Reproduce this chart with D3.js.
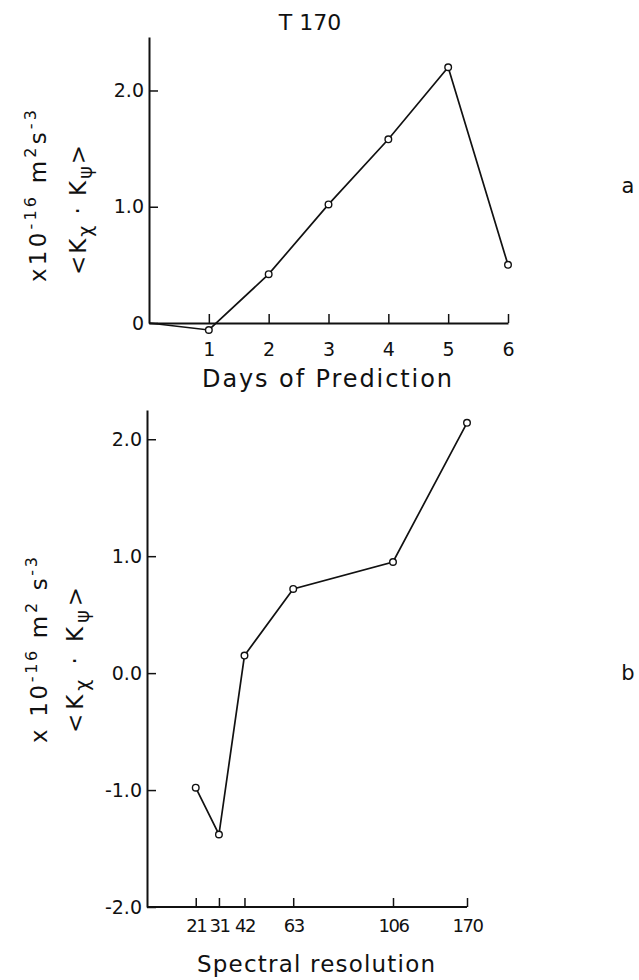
<html>
    <head>
        <script src="https://cdn.jsdelivr.net/npm/d3@7/dist/d3.min.js" charset="utf-8"></script>
        <style>
            body { margin: 0; background: #fff; }
            text { font-family: "DejaVu Sans", sans-serif; fill: #111; }
        </style>
    </head>

    <body>
    </body>

    <script>
        // Panel a: flux against days of prediction (T170 run)
        var days = [0, 1, 2, 3, 4, 5, 6];
        var fluxByDay = [0.0, -0.06, 0.42, 1.02, 1.58, 2.20, 0.50];
        var dayTicks = [1, 2, 3, 4, 5, 6];
        var topYTicks = [0, 1, 2];
        var topYLabels = ["0", "1.0", "2.0"];

        // Panel b: flux against spectral resolution
        var resolutions = [21, 31, 42, 63, 106, 170];
        var fluxByRes = [-0.98, -1.38, 0.15, 0.72, 0.95, 2.14];
        var botYTicks = [-2, -1, 0, 1, 2];
        var botYLabels = ["-2.0", "-1.0", "0.0", "1.0", "2.0"];

        var width = 639;
        var height = 980;
        var fontName = "'DejaVu Sans', sans-serif";

        var svg = d3.select("body").append("svg")
            .attr("width", width)
            .attr("height", height);

        svg.append("rect")
            .attr("width", width)
            .attr("height", height)
            .attr("fill", "#fff");

        // scales
        var xTop = d3.scaleLinear().domain([0, 6]).range([149, 508]);
        var yTop = d3.scaleLinear().domain([0, 2.46]).range([323, 37]);

        // the resolution axis is linear up to 106, then squeezed for 170
        var xBot = d3.scaleLinear().domain([0, 106, 170]).range([147, 393, 467]);
        var yBot = d3.scaleLinear().domain([-2, 2.25]).range([907, 410]);

        function styleAxis(g, fontSize) {
            g.select(".domain").attr("stroke", "#111").attr("stroke-width", 2);
            g.selectAll(".tick line").attr("stroke", "#111").attr("stroke-width", 1.5);
            g.selectAll(".tick text")
                .attr("fill", "#111")
                .style("font-family", fontName)
                .style("font-size", fontSize + "px");
        }

        // ---- panel a ----
        var gxTop = svg.append("g")
            .attr("transform", "translate(0," + yTop(0) + ")")
            .call(d3.axisBottom(xTop)
                .tickValues(dayTicks)
                .tickSizeInner(-9)
                .tickSizeOuter(0)
                .tickPadding(20)
                .tickFormat(d3.format("d")));
        styleAxis(gxTop, 19);

        var gyTop = svg.append("g")
            .attr("transform", "translate(" + xTop(0) + ",0)")
            .call(d3.axisLeft(yTop)
                .tickValues(topYTicks)
                .tickSizeInner(-9)
                .tickSizeOuter(0)
                .tickPadding(5)
                .tickFormat(function (d, i) { return topYLabels[i]; }));
        styleAxis(gyTop, 19);

        var lineTop = d3.line()
            .x(function (d, i) { return xTop(days[i]); })
            .y(function (d) { return yTop(d); });

        svg.append("path")
            .datum(fluxByDay)
            .attr("d", lineTop)
            .attr("fill", "none")
            .attr("stroke", "#111")
            .attr("stroke-width", 1.7);

        // no marker on the starting point at day 0
        svg.selectAll(".dotTop")
            .data(fluxByDay.slice(1))
            .enter().append("circle")
            .attr("class", "dotTop")
            .attr("cx", function (d, i) { return xTop(days[i + 1]); })
            .attr("cy", function (d) { return yTop(d); })
            .attr("r", 3.3)
            .attr("fill", "#fff")
            .attr("stroke", "#111")
            .attr("stroke-width", 1.4);

        svg.append("text")
            .attr("x", 310)
            .attr("y", 30)
            .attr("text-anchor", "middle")
            .style("font-size", "22px")
            .text("T 170");

        svg.append("text")
            .attr("x", 327)
            .attr("y", 387)
            .attr("text-anchor", "middle")
            .attr("textLength", 250)
            .style("font-size", "24px")
            .text("Days of Prediction");

        svg.append("text")
            .attr("x", 628)
            .attr("y", 193)
            .attr("text-anchor", "middle")
            .style("font-size", "21px")
            .text("a");

        // ---- panel b ----
        var gxBot = svg.append("g")
            .attr("transform", "translate(0," + yBot(-2) + ")")
            .call(d3.axisBottom(xBot)
                .tickValues(resolutions)
                .tickSizeInner(-9)
                .tickSizeOuter(0)
                .tickPadding(12)
                .tickFormat(d3.format("d")));
        gxBot.select(".domain").attr("d", "M" + xBot(0) + ",0H" + xBot(170));
        styleAxis(gxBot, 18);
        gxBot.selectAll(".tick text").style("letter-spacing", "-1.5px");

        var gyBot = svg.append("g")
            .attr("transform", "translate(" + xBot(0) + ",0)")
            .call(d3.axisLeft(yBot)
                .tickValues(botYTicks)
                .tickSizeInner(-9)
                .tickSizeOuter(0)
                .tickPadding(5)
                .tickFormat(function (d, i) { return botYLabels[i]; }));
        styleAxis(gyBot, 19);

        var lineBot = d3.line()
            .x(function (d, i) { return xBot(resolutions[i]); })
            .y(function (d) { return yBot(d); });

        svg.append("path")
            .datum(fluxByRes)
            .attr("d", lineBot)
            .attr("fill", "none")
            .attr("stroke", "#111")
            .attr("stroke-width", 1.7);

        svg.selectAll(".dotBot")
            .data(fluxByRes)
            .enter().append("circle")
            .attr("class", "dotBot")
            .attr("cx", function (d, i) { return xBot(resolutions[i]); })
            .attr("cy", function (d) { return yBot(d); })
            .attr("r", 3.3)
            .attr("fill", "#fff")
            .attr("stroke", "#111")
            .attr("stroke-width", 1.4);

        svg.append("text")
            .attr("x", 316)
            .attr("y", 972)
            .attr("text-anchor", "middle")
            .attr("textLength", 238)
            .style("font-size", "23px")
            .text("Spectral resolution");

        svg.append("text")
            .attr("x", 628)
            .attr("y", 680)
            .attr("text-anchor", "middle")
            .style("font-size", "21px")
            .text("b");

        // ---- rotated y titles ----
        // units line: pieces of [text, isSuperscript]
        function unitsTitle(x, y, len, pieces) {
            var t = svg.append("text")
                .attr("transform", "translate(" + x + "," + y + ") rotate(-90)")
                .attr("text-anchor", "middle")
                .attr("textLength", len)
                .style("font-size", "23px");
            var up = false;
            pieces.forEach(function (p) {
                var shift = 0;
                if (p[1] && !up) shift = -10;
                if (!p[1] && up) shift = 10;
                up = p[1];
                t.append("tspan")
                    .attr("dy", shift)
                    .style("font-size", p[1] ? "16px" : "23px")
                    .text(p[0]);
            });
        }

        function bracketTitle(x, y, len) {
            var t = svg.append("text")
                .attr("transform", "translate(" + x + "," + y + ") rotate(-90)")
                .attr("text-anchor", "middle")
                .attr("textLength", len)
                .style("font-size", "23px");
            t.append("tspan").text("<K");
            t.append("tspan").attr("dy", 6).style("font-size", "19px").text("\u03C7");
            t.append("tspan").attr("dy", -6).text(" \u00B7 K");
            t.append("tspan").attr("dy", 6).style("font-size", "19px").text("\u03C8");
            t.append("tspan").attr("dy", -6).text(">");
        }

        unitsTitle(46, 196, 172, [["x10", false], ["-16", true], ["  m", false], ["2", true], ["s", false], ["-3", true]]);
        bracketTitle(86, 210, 130);

        unitsTitle(47, 650, 186, [["x 10", false], ["-16", true], ["  m", false], ["2", true], [" s", false], ["-3", true]]);
        bracketTitle(83, 660, 146);
    </script>
</html>
